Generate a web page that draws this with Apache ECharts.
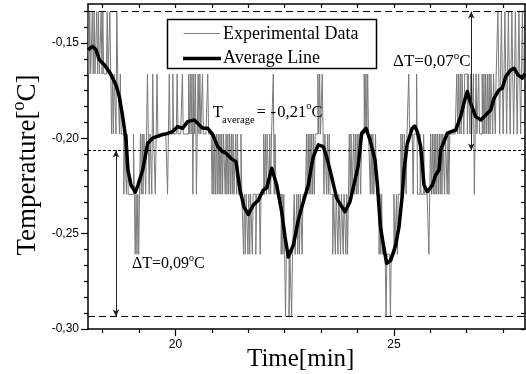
<!DOCTYPE html>
<html><head><meta charset="utf-8">
<script src="https://cdn.jsdelivr.net/npm/echarts@6/dist/echarts.min.js"></script>
<style>html,body{margin:0;padding:0;background:#fff}#c{width:526px;height:374px}</style>
</head><body><div id="c"></div>
<script>
// ---------------- DATA ----------------
// quantized temperature levels of the raw sensor signal (°C)
const expLevels = [-0.1335, -0.1662, -0.1977, -0.2293, -0.2608, -0.2935];
// raw signal, sampled every 0.02 min starting at 18 min; one string per minute, each char = level index
const expStart = 18, expStep = 0.02;
const expMin18 = "010110101101011010111" + "10110121211201" + "121222322323333";
const expMin19 = "33234343432" + "3232232123223122321222" + "22222222321222122";
const expMin20 = "221222221222222121" + "21312132121221222221222" + "232323232";
const expMin21 = "3232322323232323233" + "232333233434334" + "3433433343333433";
const expMin22 = "323232232322132333" + "33343" + "434544454454" + "434434343343333";
const expMin23 = "232323232322" + "2121221" + "2322323233" + "3433433" + "43343343343432";
const expMin24 = "3233232323223222" + "12121" + "22323233233343" + "434444544445444";
const expMin25 = "3443433" + "3232322322122223222133" + "3233323333343" + "23232323";
const expMin26 = "23232322" + "322323222222221" + "212121121112112122132122122";
const expMin27 = "212121212121121121" + "1012101210121012101210121012" + "1011" + "1";
const expCodes = [expMin18, expMin19, expMin20, expMin21, expMin22, expMin23, expMin24, expMin25, expMin26, expMin27];

// moving-average line
const avgTime = [18.000,18.108,18.183,18.259,18.373,18.487,18.549,18.641,18.716,18.794,18.870,18.915,18.984,19.082,19.144,19.252,19.366,19.481,19.579,19.709,19.808,19.938,20.053,20.167,20.281,20.432,20.547,20.625,20.739,20.854,20.968,21.082,21.158,21.272,21.387,21.478,21.570,21.668,21.783,21.897,22.011,22.089,22.204,22.318,22.432,22.508,22.584,22.698,22.812,22.927,23.041,23.119,23.156,23.270,23.384,23.460,23.538,23.691,23.881,23.995,24.110,24.185,24.263,24.362,24.453,24.568,24.625,24.690,24.760,24.835,24.927,25.041,25.117,25.192,25.231,25.307,25.421,25.476,25.535,25.613,25.689,25.764,25.879,25.957,26.032,26.071,26.222,26.414,26.527,26.620,26.679,26.757,26.871,26.986,27.101,27.215,27.291,27.405,27.481,27.559,27.673,27.748,27.840,27.938,28.000];
const avgTemp = [-0.1535,-0.1518,-0.1535,-0.1588,-0.1614,-0.1650,-0.1676,-0.1720,-0.1780,-0.1886,-0.2008,-0.2166,-0.2245,-0.2282,-0.2245,-0.2166,-0.2026,-0.1999,-0.1990,-0.1980,-0.1975,-0.1964,-0.1938,-0.1947,-0.1912,-0.1903,-0.1930,-0.1947,-0.1947,-0.1980,-0.2043,-0.2070,-0.2078,-0.2105,-0.2122,-0.2270,-0.2360,-0.2399,-0.2350,-0.2324,-0.2271,-0.2260,-0.2157,-0.2245,-0.2385,-0.2516,-0.2622,-0.2560,-0.2429,-0.2332,-0.2245,-0.2140,-0.2096,-0.2034,-0.2043,-0.2096,-0.2166,-0.2315,-0.2385,-0.2332,-0.2218,-0.2140,-0.1973,-0.1947,-0.2008,-0.2113,-0.2250,-0.2460,-0.2560,-0.2656,-0.2640,-0.2560,-0.2464,-0.2297,-0.2166,-0.2026,-0.1947,-0.1935,-0.1965,-0.2043,-0.2245,-0.2280,-0.2245,-0.2192,-0.2166,-0.2061,-0.1973,-0.1956,-0.1886,-0.1800,-0.1754,-0.1816,-0.1886,-0.1903,-0.1877,-0.1851,-0.1790,-0.1746,-0.1737,-0.1676,-0.1641,-0.1632,-0.1667,-0.1684,-0.1660];

// reference levels and ΔT arrows
const tTop = -0.1335, tAverage = -0.2063, tBottom = -0.2935;
const arrowUpTime = 26.77, arrowDownTime = 18.64;

// axes
const xMin = 18, xMax = 28, xMajor = [20, 25], xMinorCount = 5;
const yMin = -0.30, yMax = -0.1295, yMajor = [-0.30, -0.25, -0.20, -0.15], yMinorCount = 5;

// ---------------- BUILD ----------------
const expData = [];
let idx = 0;
expCodes.forEach(s => { for (const ch of s) { expData.push([+(expStart + expStep * idx).toFixed(4), expLevels[+ch]]); idx++; } });
const avgData = avgTime.map((t, i) => [t, avgTemp[i]]);

function ticksAll(min, max, majors, minorCount) {
  const step = (majors[1] - majors[0]) / (minorCount + 1);
  const out = [];
  const k0 = Math.ceil((min - majors[0]) / step - 1e-9);
  for (let k = k0; majors[0] + k * step <= max + 1e-9; k++) out.push(+(majors[0] + k * step).toFixed(6));
  return out;
}
const isMajor = (v, majors) => majors.some(m => Math.abs(m - v) < 1e-6);
const xAll = ticksAll(xMin, xMax, xMajor, xMinorCount);
const yAll = ticksAll(yMin, yMax, yMajor, yMinorCount);
const xMinor = xAll.filter(v => !isMajor(v, xMajor));
const yMinor = yAll.filter(v => !isMajor(v, yMajor));

const SERIF = '"Liberation Serif", "Times New Roman", serif';
const SANS = '"Liberation Sans", Arial, sans-serif';
const mctx = document.createElement('canvas').getContext('2d');
function tw(t, s) { mctx.font = s + 'px ' + SERIF; return mctx.measureText(t).width; }
function pieces(x0, y0, arr) {
  let x = x0; const out = [];
  arr.forEach(p => {
    if (p.x !== undefined) x = p.x;
    out.push({ type: 'text', x: x, y: y0 + (p.dy || 0), z: 100,
      style: { text: p.t, fontSize: p.s, fontFamily: SERIF, fill: '#000', align: 'left', verticalAlign: 'middle' } });
    x += tw(p.t, p.s);
  });
  return out;
}
function piecesWidth(arr) { return arr.reduce((a, p) => a + tw(p.t, p.s), 0); }

const yTitle = [{ t: 'Temperature[', s: 27 }, { t: 'o', s: 18, dy: -9 }, { t: 'C]', s: 27 }];
const yTitleW = piecesWidth(yTitle);

const graphics = [
  { type: 'group', x: 28, y: 165, rotation: Math.PI / 2, z: 100, children: pieces(-yTitleW / 2, 0, yTitle) },
  { type: 'text', x: 300.7, y: 359, z: 100, style: { text: 'Time[min]', fontSize: 25, fontFamily: SERIF, fill: '#000', align: 'center', verticalAlign: 'middle' } },
  // legend
  { type: 'rect', z: 100, shape: { x: 167.5, y: 19.5, width: 209, height: 49 }, style: { fill: '#fff', stroke: '#000', lineWidth: 1.5 } },
  { type: 'line', z: 101, shape: { x1: 183.5, y1: 33.5, x2: 220, y2: 33.5 }, style: { stroke: '#808080', lineWidth: 1 } },
  { type: 'line', z: 101, shape: { x1: 183, y1: 58.5, x2: 221, y2: 58.5 }, style: { stroke: '#000', lineWidth: 3.5 } },
  { type: 'text', x: 223, y: 34, z: 101, style: { text: 'Experimental Data', fontSize: 18, fontFamily: SERIF, fill: '#000', align: 'left', verticalAlign: 'middle' } },
  { type: 'text', x: 223, y: 58.5, z: 101, style: { text: 'Average Line', fontSize: 18, fontFamily: SERIF, fill: '#000', align: 'left', verticalAlign: 'middle' } },
  ...pieces(0, 112.5, [{ t: 'T', s: 16.5, x: 212.7 }]),
  ...pieces(0, 120, [{ t: 'average', s: 10.5, x: 222 }]),
  ...pieces(0, 112.5, [{ t: '=', s: 16.5, x: 256.5 }, { t: '-', s: 16.5, x: 270.5 }, { t: '0,21', s: 16.5, x: 277.3 }, { t: 'o', s: 10.5, dy: -6 }, { t: 'C', s: 16.5 }]),
  ...pieces(393, 62, [{ t: 'ΔT=0,07', s: 17 }, { t: 'o', s: 11, dy: -6 }, { t: 'C', s: 17 }]),
  ...pieces(132, 263.7, [{ t: 'ΔT=0,09', s: 16 }, { t: 'o', s: 10, dy: -5.5 }, { t: 'C', s: 16 }])
];

const axisLineStyle = { color: '#000', width: 1.5 };
const baseX = { type: 'value', min: xMin, max: xMax, splitLine: { show: false }, axisLine: { onZero: false, show: false } };
const baseY = { type: 'value', min: yMin, max: yMax, splitLine: { show: false }, axisLine: { onZero: false, show: false } };

const option = {
  animation: false,
  grid: { left: 88, right: 1, top: 4, bottom: 45, containLabel: false, outerBoundsMode: 'none' },
  xAxis: [
    Object.assign({}, baseX, { position: 'bottom',
      axisLine: { show: true, onZero: false, lineStyle: axisLineStyle },
      axisTick: { show: true, inside: false, length: 7, customValues: xMajor, lineStyle: { color: '#000', width: 1.2 } },
      axisLabel: { show: true, customValues: xMajor, margin: 10, fontSize: 12, fontFamily: SANS, color: '#000', formatter: v => String(v) } }),
    Object.assign({}, baseX, { position: 'bottom',
      axisTick: { show: true, inside: false, length: 4, customValues: xMinor, lineStyle: { color: '#000', width: 1.2 } },
      axisLabel: { show: false } }),
    Object.assign({}, baseX, { position: 'top',
      axisLine: { show: true, onZero: false, lineStyle: axisLineStyle },
      axisTick: { show: true, inside: true, length: 4, customValues: xAll, lineStyle: { color: '#000', width: 1.2 } },
      axisLabel: { show: false } })
  ],
  yAxis: [
    Object.assign({}, baseY, { position: 'left',
      axisLine: { show: true, onZero: false, lineStyle: axisLineStyle },
      axisTick: { show: true, inside: false, length: 7, customValues: yMajor, lineStyle: { color: '#000', width: 1.2 } },
      axisLabel: { show: true, customValues: yMajor, margin: 9, fontSize: 12, fontFamily: SANS, color: '#000', formatter: v => v.toFixed(2).replace('.', ',') } }),
    Object.assign({}, baseY, { position: 'left',
      axisTick: { show: true, inside: false, length: 4, customValues: yMinor, lineStyle: { color: '#000', width: 1.2 } },
      axisLabel: { show: false } }),
    Object.assign({}, baseY, { position: 'right',
      axisLine: { show: true, onZero: false, lineStyle: axisLineStyle },
      axisTick: { show: true, inside: true, length: 4, customValues: yAll, lineStyle: { color: '#000', width: 1.2 } },
      axisLabel: { show: false } })
  ],
  series: [
    { name: 'Experimental Data', type: 'line', data: expData, step: 'end', showSymbol: false, symbol: 'none', z: 2,
      lineStyle: { color: '#7a7a7a', width: 1 }, silent: true },
    { name: 'refs', type: 'line', data: [], silent: true, z: 3,
      markLine: { silent: true, precision: 6, symbol: 'none', label: { show: false }, animation: false,
        data: [
          { yAxis: tTop, lineStyle: { color: '#000', width: 1, type: [7, 4] } },
          { yAxis: tBottom, lineStyle: { color: '#000', width: 1, type: [7, 4] } },
          { yAxis: tAverage, lineStyle: { color: '#000', width: 1, type: [3, 2] } }
        ] } },
    { name: 'arrows', type: 'line', data: [], silent: true, z: 3,
      markLine: { silent: true, precision: 6, symbol: ['arrow', 'arrow'], symbolSize: [5, 7], label: { show: false }, animation: false,
        lineStyle: { color: '#222', width: 1, type: 'solid' },
        data: [
          [{ coord: [arrowUpTime, tAverage] }, { coord: [arrowUpTime, tTop] }],
          [{ coord: [arrowDownTime, tAverage] }, { coord: [arrowDownTime, tBottom] }]
        ] } },
    { name: 'Average Line', type: 'line', data: avgData, showSymbol: false, symbol: 'none', z: 4,
      lineStyle: { color: '#000', width: 3.5, join: 'round' }, silent: true }
  ],
  graphic: graphics
};
const chart = echarts.init(document.getElementById('c'), null, { renderer: 'canvas' });
chart.setOption(option);
</script></body></html>
